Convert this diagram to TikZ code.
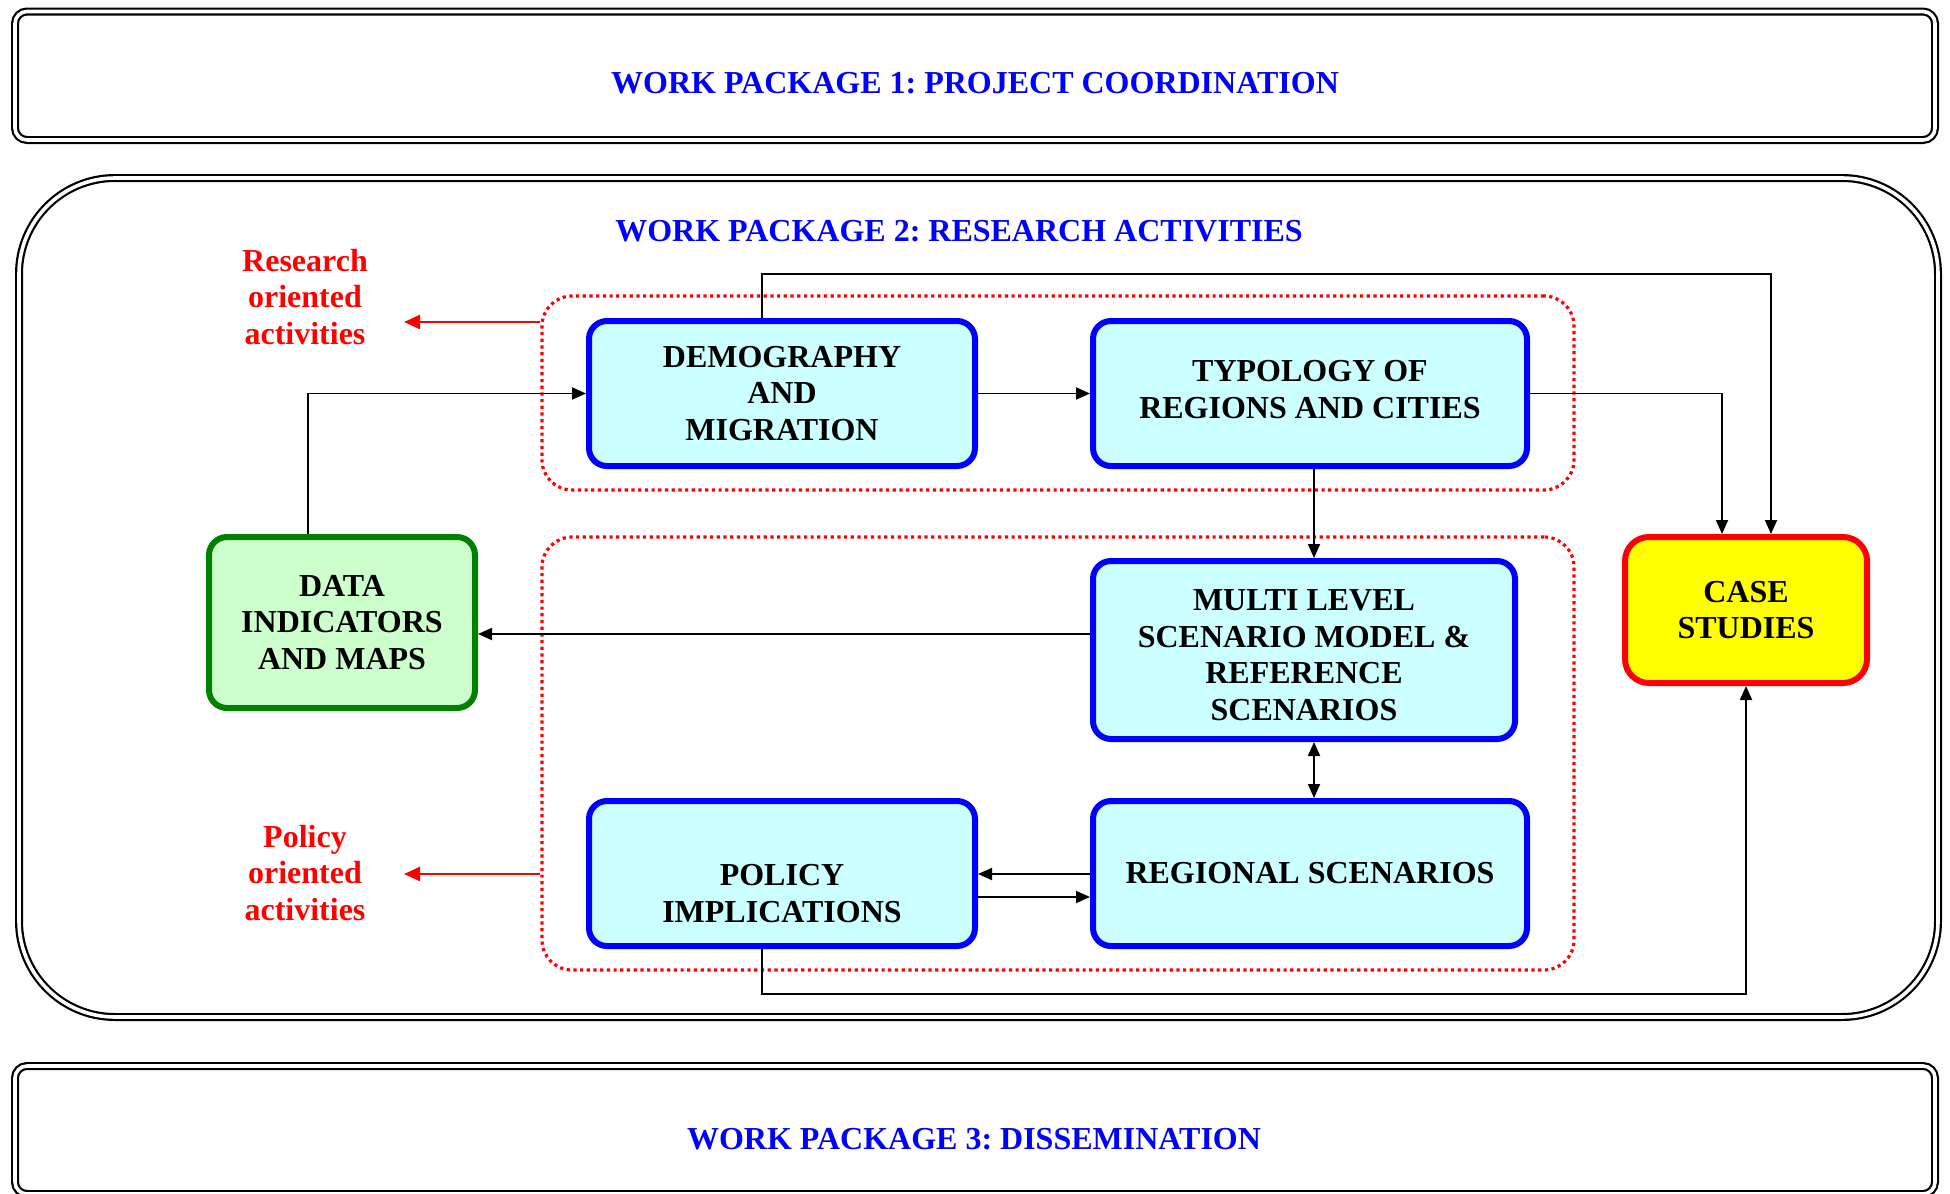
\documentclass[tikz,border=0pt]{standalone}
\usepackage{fontspec}
\setmainfont{Liberation Serif}
\usetikzlibrary{arrows.meta}
\frenchspacing
\definecolor{bblue}{RGB}{0,0,255}
\definecolor{bcyan}{RGB}{204,255,255}
\definecolor{ggreen}{RGB}{0,128,0}
\definecolor{glight}{RGB}{204,255,204}
\definecolor{rred}{RGB}{255,0,0}
\definecolor{yyel}{RGB}{255,255,0}
\tikzset{
  wpbox/.style={draw=black, double=white, double distance=1.8pt, line width=1.1pt, rounded corners=6pt, inner sep=0pt},
  wptitle/.style={text=bblue, inner sep=0pt},
  bluebox/.style={draw=bblue, fill=bcyan, line width=3pt, rounded corners=9pt, align=center, inner sep=0pt},
  greenbox/.style={draw=ggreen, fill=glight, line width=3pt, rounded corners=9pt, align=center, inner sep=0pt},
  casebox/.style={draw=rred, fill=yyel, line width=3pt, rounded corners=12pt, align=center, inner sep=0pt},
  dotbox/.style={draw=rred, line width=1.6pt, dash pattern=on 1.6pt off 1.75pt, rounded corners=15pt, inner sep=0pt},
  redlabel/.style={text=rred, align=center, inner sep=0pt},
  arr/.style={draw=black, line width=0.95pt, -{Triangle[length=7pt,width=6pt]}},
  darr/.style={draw=black, line width=0.95pt, {Triangle[length=7pt,width=6pt]}-{Triangle[length=7pt,width=6pt]}},
  redarr/.style={draw=rred, line width=1.2pt, -{Triangle[length=8pt,width=7pt]}}
}
\begin{document}
\begin{tikzpicture}[x=0.5pt,y=-0.5pt, font=\fontsize{16pt}{18.3pt}\selectfont\bfseries]
\useasboundingbox (0,0) rectangle (1950,1194);
% work package frames
\node[wpbox, minimum width=960pt, minimum height=64.25pt] (wp1) at (975,75.75) {};
\node[wptitle] (wp1t) at (975,83) {WORK PACKAGE 1: PROJECT COORDINATION};
\node[wpbox, rounded corners=48pt, minimum width=959.5pt, minimum height=419.5pt] (wp2) at (978.5,597.5) {};
\node[wptitle] (wp2t) at (959,231) {WORK PACKAGE 2: RESEARCH ACTIVITIES};
\node[wpbox, minimum width=960pt, minimum height=64pt] (wp3) at (975,1130) {};
\node[wptitle] (wp3t) at (974,1139) {WORK PACKAGE 3: DISSEMINATION};
% dotted groups
\node[dotbox, minimum width=516pt, minimum height=97pt] (grp1) at (1058,393) {};
\node[dotbox, minimum width=516pt, minimum height=216.5pt] (grp2) at (1058,753.5) {};
% boxes
\node[bluebox, minimum width=193pt, minimum height=72.5pt] (demo) at (782,393.5) {DEMOGRAPHY\\AND\\MIGRATION};
\node[bluebox, minimum width=217pt, minimum height=72.5pt] (typo) at (1310,393.5) {TYPOLOGY OF\\REGIONS AND CITIES\rule[-3.8pt]{0pt}{3.8pt}};
\node[bluebox, minimum width=211pt, minimum height=89pt] (multi) at (1304,650) {\rule{0pt}{15.6pt}MULTI LEVEL\\SCENARIO MODEL \&\\REFERENCE\\SCENARIOS};
\node[bluebox, minimum width=217pt, minimum height=72.5pt] (reg) at (1310,873.5) {REGIONAL SCENARIOS};
\node[bluebox, minimum width=193pt, minimum height=72.5pt] (pol) at (782,873.5) {\rule{0pt}{30.6pt}POLICY\\IMPLICATIONS};
\node[greenbox, minimum width=133pt, minimum height=85.5pt] (data) at (342,622.5) {DATA\\INDICATORS\\AND MAPS};
\node[casebox, minimum width=121pt, minimum height=73pt] (case) at (1746,610) {CASE\\STUDIES};
% red labels
\node[redlabel] (rlab) at (305,297) {Research\\oriented\\activities};
\node[redlabel] (plab) at (305,873) {Policy\\oriented\\activities};
\coordinate (rtip) at (404,322);
\coordinate (ptip) at (404,874);
\draw[redarr] (grp1.west |- rtip) -- (rtip);
\draw[redarr] (grp2.west |- ptip) -- (ptip);
% helper coordinates
\coordinate (top) at (1771,274);
\coordinate (bot) at (1746,994);
\coordinate (vx) at (1314,0);
\coordinate (hy) at (0,634);
\coordinate (rp) at (0,874);
\coordinate (pr) at (0,897);
% connectors
\draw[arr] ([xshift=-17pt]data.north) |- (demo.west);
\draw[arr] (demo.east) -- (typo.west);
\draw[arr] ([xshift=-10pt]demo.north) |- (top) -- (top |- case.north);
\draw[arr] (typo.east) -| ([xshift=-12pt]case.north);
\draw[arr] (typo.south -| vx) -- (multi.north -| vx);
\draw[arr] (multi.west |- hy) -- (data.east |- hy);
\draw[darr] (multi.south -| vx) -- (reg.north -| vx);
\draw[arr] (reg.west |- rp) -- (pol.east |- rp);
\draw[arr] (pol.east |- pr) -- (reg.west |- pr);
\draw[arr] ([xshift=-10pt]pol.south) |- (bot) -- (case.south);
\end{tikzpicture}
\end{document}
